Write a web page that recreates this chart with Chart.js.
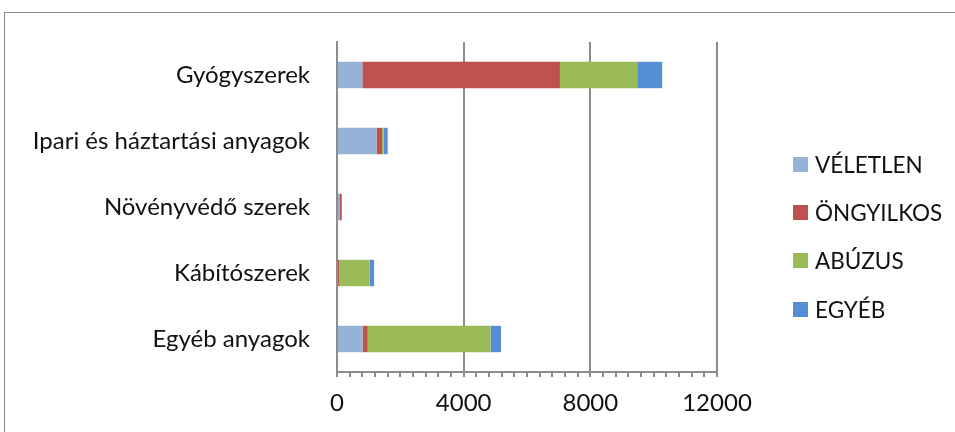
<!DOCTYPE html>
<html lang="hu">
<head>
  <meta charset="UTF-8">
  <title>Mérgezések</title>
  <script src="https://cdn.jsdelivr.net/npm/chart.js"></script>
  <style>
    html, body {
      margin: 0;
      overflow: hidden;
    }
    body {
      background: #fff;
      font-family: 'Lato', sans-serif;
    }
    .page {
      position: relative;
      width: 955px;
      height: 432px;
      overflow: hidden;
    }
    /* only the top and left edges of the chart frame are in view */
    .frame {
      position: absolute;
      left: 4px;
      top: 12px;
      width: 1000px;
      height: 500px;
      border-top: 1.5px solid #8a8a8a;
      border-left: 1.5px solid #8a8a8a;
    }
    .wrap {
      position: absolute;
      left: 0;
      top: 0;
      width: 955px;
      height: 432px;
    }
    #legend {
      position: absolute;
      left: 793px;
      top: 140px;
      margin: 0;
      padding: 0;
      list-style: none;
    }
    #legend li {
      display: flex;
      align-items: center;
      height: 48.3px;
      font-size: 22.5px;
      color: #111;
    }
    #legend span {
      display: inline-block;
      width: 15px;
      height: 15px;
      margin-right: 7px;
    }
  </style>
</head>
<body>
<div class="page">
  <div class="frame"></div>
  <div class="wrap"><canvas id="chart" width="955" height="432"></canvas></div>
  <ul id="legend"></ul>
</div>

  <script>
    const categories = ['Gyógyszerek', 'Ipari és háztartási anyagok', 'Növényvédő szerek', 'Kábítószerek', 'Egyéb anyagok'];
    const seriesNames = ['VÉLETLEN', 'ÖNGYILKOS', 'ABÚZUS', 'EGYÉB'];
    const veletlen = [800, 1250, 75, 20, 810];
    const ongyilkos = [6240, 170, 75, 45, 160];
    const abuzus = [2440, 55, 0, 965, 3880];
    const egyeb = [790, 125, 0, 140, 330];
    const colors = ['#95b3d7', '#c0504d', '#9bbb59', '#558ed5'];
    const xTicks = [0, 4000, 8000, 12000];

    const gridGrey = '#8c8c8c';
    const values = [veletlen, ongyilkos, abuzus, egyeb];

    const chart = new Chart(document.getElementById('chart'), {
      type: 'bar',
      data: {
        labels: categories,
        datasets: seriesNames.map((name, i) => ({
          label: name,
          data: values[i],
          backgroundColor: colors[i],
          borderWidth: 0,
          barPercentage: 0.4,
          categoryPercentage: 1
        }))
      },
      options: {
        indexAxis: 'y',
        responsive: false,
        animation: false,
        layout: { padding: { top: 42, right: 238, left: 0, bottom: 0 } },
        plugins: {
          legend: { display: false },
          tooltip: { enabled: false }
        },
        scales: {
          x: {
            stacked: true,
            min: 0,
            max: 12000,
            // minor ticks every 400, labels and gridlines only on the major values
            ticks: {
              stepSize: 400,
              autoSkip: false,
              maxRotation: 0,
              padding: 12,
              color: '#111',
              font: { family: 'Lato', size: 24 },
              callback: v => xTicks.includes(v) ? v : ''
            },
            grid: {
              color: ctx => (ctx.tick && xTicks.includes(ctx.tick.value)) ? gridGrey : 'rgba(0,0,0,0)',
              tickColor: gridGrey,
              tickLength: 5,
              lineWidth: 2
            },
            border: { color: gridGrey, width: 2 },
            afterFit: s => { s.height = 60; }
          },
          y: {
            stacked: true,
            ticks: {
              padding: 27,
              color: '#111',
              font: { family: 'Lato', size: 24 }
            },
            grid: { display: false, drawTicks: false },
            border: { color: gridGrey, width: 2 },
            afterFit: s => { s.width = 337; }
          }
        }
      }
    });

    const legend = document.getElementById('legend');
    chart.data.datasets.forEach(ds => {
      const li = document.createElement('li');
      li.innerHTML = `<span style="background:${ds.backgroundColor}"></span>${ds.label}`;
      legend.appendChild(li);
    });
  </script>
</body>
</html>
